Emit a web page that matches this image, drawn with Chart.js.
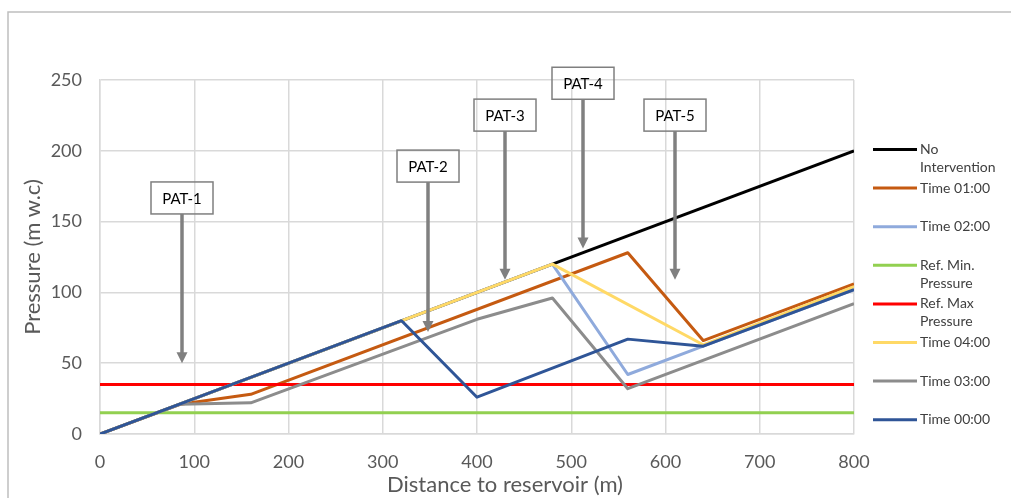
<!DOCTYPE html>
<html>
<head>
<meta charset="utf-8">
<script src="https://cdn.jsdelivr.net/npm/chart.js@4.4.1/dist/chart.umd.min.js"></script>
<style>
  html, body { margin: 0; padding: 0; background: #fff; }
  #wrap { width: 1011px; height: 498px; }
</style>
</head>
<body>
<div id="wrap"><canvas id="pressureChart" width="1011" height="498"></canvas></div>
<script>
// Series names (legend order)
const seriesNames = ['No Intervention', 'Time 01:00', 'Time 02:00', 'Ref. Min. Pressure',
    'Ref. Max Pressure', 'Time 04:00', 'Time 03:00', 'Time 00:00'];
const seriesColors = ['#000000', '#C55A11', '#8FAADC', '#92D050', '#FF0000', '#FFD966', '#8C8C8C', '#2F5597'];

// Distance (m) / pressure (m w.c) per series
const noInterventionX = [0, 800];
const noInterventionY = [0, 200];
const time01X = [0, 85, 160, 560, 640, 800];
const time01Y = [0, 21, 28, 128, 66, 106];
const time02X = [0, 480, 560, 640, 800];
const time02Y = [0, 120, 42, 62, 102];
const refMinX = [0, 800];
const refMinY = [15, 15];
const refMaxX = [0, 800];
const refMaxY = [35, 35];
const time04X = [0, 480, 640, 800];
const time04Y = [0, 120, 63, 104];
const time03X = [0, 85, 160, 400, 480, 560, 800];
const time03Y = [0, 21, 22, 81, 96, 32, 92];
const time00X = [0, 320, 400, 560, 640, 800];
const time00Y = [0, 80, 26, 67, 62, 102];

const xTicks = [0, 100, 200, 300, 400, 500, 600, 700, 800];
const yTicks = [0, 50, 100, 150, 200, 250];

// PAT callouts: label, distance, pressure at box top, pressure at arrow tip
const patLabels = ['PAT-1', 'PAT-2', 'PAT-3', 'PAT-4', 'PAT-5'];
const patX = [87, 348, 430, 512, 610];
const patTop = [178, 200.5, 236.5, 259, 236.5];
const patTip = [50, 72, 109, 131, 109];

const allX = [noInterventionX, time01X, time02X, refMinX, refMaxX, time04X, time03X, time00X];
const allY = [noInterventionY, time01Y, time02Y, refMinY, refMaxY, time04Y, time03Y, time00Y];

const FONT = 'Lato, "Open Sans", sans-serif';

function toPoints(xs, ys) {
    return xs.map((x, i) => ({ x: x, y: ys[i] }));
}

// Frame, PAT callouts, x title and legend
const extras = {
    id: 'extras',
    beforeDraw(chart) {
        const ctx = chart.ctx;
        ctx.save();
        ctx.fillStyle = '#fff';
        ctx.fillRect(0, 0, chart.width, chart.height);
        ctx.strokeStyle = '#bfbfbf';
        ctx.lineWidth = 1.5;
        ctx.beginPath();
        ctx.moveTo(8, chart.height + 2);
        ctx.lineTo(8, 12);
        ctx.lineTo(chart.width + 2, 12);
        ctx.stroke();
        ctx.restore();
    },
    afterDraw(chart) {
        const ctx = chart.ctx;
        const xs = chart.scales.x, ys = chart.scales.y;
        ctx.save();

        // PAT boxes and arrows
        patLabels.forEach((label, i) => {
            const cx = Math.round(xs.getPixelForValue(patX[i]));
            const top = ys.getPixelForValue(patTop[i]);
            const tip = ys.getPixelForValue(patTip[i]);
            const w = 62, h = 32;
            ctx.strokeStyle = '#7f7f7f';
            ctx.lineWidth = 1.5;
            ctx.strokeRect(cx - w / 2, top, w, h);
            ctx.fillStyle = '#000';
            ctx.font = '15px ' + FONT;
            ctx.textAlign = 'center';
            ctx.textBaseline = 'middle';
            ctx.fillText(label, cx, top + h / 2 + 1);

            ctx.strokeStyle = '#808080';
            ctx.fillStyle = '#808080';
            ctx.lineWidth = 3.5;
            ctx.beginPath();
            ctx.moveTo(cx, top + h);
            ctx.lineTo(cx, tip - 9);
            ctx.stroke();
            ctx.beginPath();
            ctx.moveTo(cx - 5.5, tip - 11);
            ctx.lineTo(cx + 5.5, tip - 11);
            ctx.lineTo(cx, tip);
            ctx.closePath();
            ctx.fill();
        });

        // x axis title
        ctx.fillStyle = '#595959';
        ctx.font = '22px ' + FONT;
        ctx.textAlign = 'center';
        ctx.textBaseline = 'middle';
        ctx.fillText('Distance to reservoir (m)', 505, 485);

        // legend
        ctx.font = '14px ' + FONT;
        ctx.textAlign = 'left';
        seriesNames.forEach((name, i) => {
            const y = 149.5 + i * 38.6;
            ctx.strokeStyle = seriesColors[i];
            ctx.lineWidth = 3;
            ctx.beginPath();
            ctx.moveTo(873, y);
            ctx.lineTo(917, y);
            ctx.stroke();
            const lines = [];
            let cur = '';
            name.split(' ').forEach(word => {
                const test = cur ? cur + ' ' + word : word;
                if (cur && ctx.measureText(test).width > 80) {
                    lines.push(cur);
                    cur = word;
                } else {
                    cur = test;
                }
            });
            lines.push(cur);
            ctx.fillStyle = '#404040';
            lines.forEach((ln, j) => ctx.fillText(ln, 920, y + j * 18));
        });
        ctx.restore();
    }
};

const datasets = seriesNames.map((name, i) => ({
    label: name,
    data: toPoints(allX[i], allY[i]),
    borderColor: seriesColors[i],
    backgroundColor: seriesColors[i],
    borderWidth: 3,
    borderJoinStyle: 'round',
    pointRadius: 0,
    tension: 0,
    fill: false,
    order: seriesNames.length - i
}));

new Chart(document.getElementById('pressureChart').getContext('2d'), {
    type: 'line',
    data: { datasets: datasets },
    options: {
        responsive: false,
        animation: false,
        layout: { padding: { left: 10, top: 80, right: 157, bottom: 0 } },
        plugins: {
            legend: { display: false },
            tooltip: { enabled: false }
        },
        scales: {
            x: {
                type: 'linear',
                min: 0,
                max: 800,
                afterFit: scale => { scale.height = 64; },
                afterBuildTicks: scale => { scale.ticks = xTicks.map(v => ({ value: v })); },
                grid: { color: '#d9d9d9', lineWidth: 1.5, drawTicks: false },
                border: { color: '#d9d9d9', width: 1.5 },
                ticks: { color: '#595959', font: { family: FONT, size: 18 }, padding: 17 }
            },
            y: {
                type: 'linear',
                min: 0,
                max: 250,
                afterFit: scale => { scale.width = 90; },
                afterBuildTicks: scale => { scale.ticks = yTicks.map(v => ({ value: v })); },
                grid: { color: '#d9d9d9', lineWidth: 1.5, drawTicks: false },
                border: { color: '#d9d9d9', width: 1.5 },
                ticks: { color: '#595959', font: { family: FONT, size: 18 }, padding: 18 },
                title: {
                    display: true,
                    text: 'Pressure (m w.c)',
                    color: '#595959',
                    font: { family: FONT, size: 22 },
                    padding: { top: 10, bottom: 0 }
                }
            }
        }
    },
    plugins: [extras]
});
</script>
</body>
</html>
